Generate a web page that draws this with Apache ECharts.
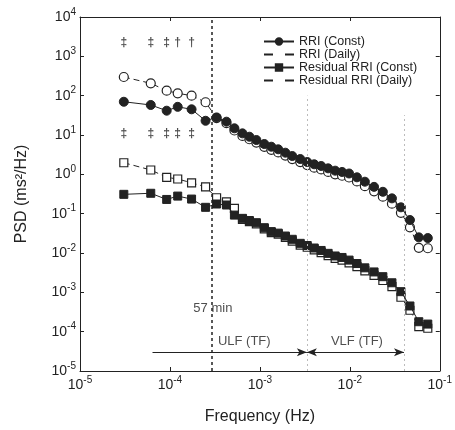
<!DOCTYPE html>
<html><head><meta charset="utf-8">
<script src="https://cdn.jsdelivr.net/npm/echarts@6/dist/echarts.min.js"></script>
<style>html,body{margin:0;padding:0;background:#fff}#c{width:455px;height:430px}</style>
</head><body><div id="c"></div>
<script>
// Frequencies (Hz)
const freq = [3.07e-5, 6.12e-5, 9.2e-5, 1.22e-4, 1.74e-4, 2.49e-4, 3.30e-4, 4.25e-4, 5.21e-4, 6.40e-4,
  7.65e-4, 9.14e-4, 1.12e-3, 1.34e-3, 1.60e-3, 1.92e-3, 2.29e-3, 2.81e-3, 3.36e-3, 4.02e-3,
  4.80e-3, 5.74e-3, 6.87e-3, 8.20e-3, 9.81e-3, 1.20e-2, 1.47e-2, 1.86e-2, 2.33e-2, 2.94e-2,
  3.70e-2, 4.66e-2, 5.85e-2, 7.36e-2];
// PSD (ms^2/Hz)
const rriConst = [70, 58, 41.5, 52, 45, 23, 28, 21.8, 14.8, 11.0, 9.05, 7.46, 5.9, 5.04, 4.33, 3.55, 2.92,
  2.45, 2.06, 1.80, 1.63, 1.42, 1.24, 1.15, 1.05, 0.84, 0.65, 0.48, 0.36, 0.245, 0.145, 0.069, 0.025, 0.024];
const rriDaily = [298, 206, 134, 115, 100, 68, 27, 20, 13, 9.5, 7.8, 6.4, 5.0, 4.2, 3.6, 3.0, 2.45,
  2.05, 1.72, 1.48, 1.33, 1.15, 1.0, 0.92, 0.83, 0.66, 0.5, 0.37, 0.27, 0.18, 0.105, 0.045, 0.0135, 0.0132];
const resConst = [0.31, 0.33, 0.23, 0.28, 0.235, 0.145, 0.176, 0.166, 0.092, 0.076, 0.067, 0.059, 0.044,
  0.035, 0.032, 0.027, 0.0223, 0.0176, 0.0155, 0.0134, 0.0116, 0.0098, 0.0084, 0.0077, 0.0066, 0.0054,
  0.0042, 0.0033, 0.0025, 0.00175, 0.00104, 0.00045, 0.000179, 0.000156];
const resDaily = [1.97, 1.29, 0.84, 0.76, 0.61, 0.48, 0.254, 0.20, 0.137, 0.072, 0.063, 0.055, 0.041,
  0.033, 0.030, 0.025, 0.020, 0.0158, 0.014, 0.012, 0.0102, 0.0086, 0.0073, 0.0066, 0.0056, 0.0045,
  0.0035, 0.0027, 0.002, 0.0014, 0.00075, 0.00035, 0.000134, 0.000122];
const seriesNames = ['RRI (Const)', 'RRI (Daily)', 'Residual RRI (Const)', 'Residual RRI (Daily)'];
// significance markers
const sigFreq = [3.07e-5, 6.12e-5, 9.2e-5, 1.22e-4, 1.74e-4];
const sigTopText = ['‡', '‡', '‡', '†', '†'];
const sigBottomText = ['‡', '‡', '‡', '‡', '‡'];
const sigTopLevel = 2200, sigBottomLevel = 11;
// band boundaries and annotations
const f57min = 2.92e-4, fULFstart = 6.4e-5, fULFend = 3.33e-3, fVLFend = 0.04;
const arrowLevel = 3.0e-5;
const notes = [
  {text: '57 min', f: 3.0e-4, p: 4.0e-4},
  {text: 'ULF (TF)', f: 6.7e-4, p: 5.6e-5},
  {text: 'VLF (TF)', f: 1.2e-2, p: 5.6e-5}
];
const xRange = [1e-5, 1e-1], yRange = [1e-5, 1e4];

const FONT = 'Liberation Sans, Arial, sans-serif';
const INK = '#222';
function powLabel(v) {
  const e = Math.round(Math.log10(v));
  return '{b|10}{s|' + e + '}';
}
const rich = {
  b: {fontSize: 14, fontFamily: FONT, color: INK, lineHeight: 20},
  s: {fontSize: 10, fontFamily: FONT, color: INK, verticalAlign: 'top', lineHeight: 10}
};
const pair = arr => freq.map((f, i) => [f, arr[i]]);

const chart = echarts.init(document.getElementById('c'), null, {renderer: 'canvas'});
const baseAxis = {
  type: 'log', logBase: 10,
  axisLine: {show: true, lineStyle: {color: INK, width: 1}},
  axisTick: {show: true, inside: true, length: 4, lineStyle: {color: INK}},
  splitLine: {show: false}
};
chart.setOption({
  animation: false,
  backgroundColor: '#fff',
  textStyle: {fontFamily: FONT},
  grid: {left: 80, top: 17, right: 14, bottom: 59},
  legend: {
    data: [
      {name: seriesNames[0]},
      {name: seriesNames[1], itemStyle: {opacity: 0}, lineStyle: {type: [9, 12]}},
      {name: seriesNames[2]},
      {name: seriesNames[3], itemStyle: {opacity: 0}, lineStyle: {type: [9, 12]}}
    ],
    orient: 'vertical', left: 258, top: 30,
    itemWidth: 30, itemHeight: 8, itemGap: 0,
    textStyle: {fontSize: 12.5, color: INK, fontFamily: FONT}
  },
  xAxis: [
    Object.assign({}, baseAxis, {
      min: xRange[0], max: xRange[1], position: 'bottom',
      name: 'Frequency (Hz)', nameLocation: 'middle', nameGap: 38,
      nameTextStyle: {fontSize: 16, color: INK, fontFamily: FONT},
      axisLabel: {formatter: powLabel, rich: rich, margin: 4}
    }),
    Object.assign({}, baseAxis, {
      min: xRange[0], max: xRange[1], position: 'top', axisLabel: {show: false}
    })
  ],
  yAxis: [
    Object.assign({}, baseAxis, {
      min: yRange[0], max: yRange[1], position: 'left',
      name: 'PSD (ms²/Hz)', nameLocation: 'middle', nameGap: 50,
      nameTextStyle: {fontSize: 16, color: INK, fontFamily: FONT},
      axisLabel: {formatter: powLabel, rich: rich, margin: 4}
    }),
    Object.assign({}, baseAxis, {
      min: yRange[0], max: yRange[1], position: 'right', axisLabel: {show: false}
    })
  ],
  series: [
    {
      name: 'guides', type: 'line', data: [], silent: true,
      markLine: {
        silent: true, animation: false, symbol: 'none', label: {show: false},
        data: [
          [{coord: [f57min, yRange[0]], lineStyle: {color: INK, type: [3, 3], width: 1.5}},
           {coord: [f57min, yRange[1]]}],
          [{coord: [fULFend, yRange[0]], lineStyle: {color: '#bbb', type: [2, 3], width: 1}},
           {coord: [fULFend, 100]}],
          [{coord: [fVLFend, yRange[0]], lineStyle: {color: '#bbb', type: [2, 3], width: 1}},
           {coord: [fVLFend, 32]}],
          [{coord: [fULFstart, arrowLevel], symbol: 'none', lineStyle: {color: INK, width: 1, type: 'solid'}},
           {coord: [fULFend, arrowLevel], symbol: 'arrow', symbolSize: [6, 10]}],
          [{coord: [fULFend, arrowLevel], symbol: 'arrow', symbolSize: [6, 10], lineStyle: {color: INK, width: 1, type: 'solid'}},
           {coord: [fVLFend, arrowLevel], symbol: 'arrow', symbolSize: [6, 10]}]
        ]
      }
    },
    {
      name: seriesNames[1], type: 'line', data: pair(rriDaily),
      symbol: 'circle', symbolSize: 9,
      itemStyle: {color: '#fff', borderColor: INK, borderWidth: 1.2},
      lineStyle: {color: INK, width: 1, type: [6, 4]}, z: 3
    },
    {
      name: seriesNames[0], type: 'line', data: pair(rriConst),
      symbol: 'circle', symbolSize: 9,
      itemStyle: {color: INK, borderColor: INK, borderWidth: 1},
      lineStyle: {color: INK, width: 1}, z: 4
    },
    {
      name: seriesNames[3], type: 'line', data: pair(resDaily),
      symbol: 'rect', symbolSize: 8,
      itemStyle: {color: '#fff', borderColor: INK, borderWidth: 1.2},
      lineStyle: {color: INK, width: 1, type: [6, 4]}, z: 3
    },
    {
      name: seriesNames[2], type: 'line', data: pair(resConst),
      symbol: 'rect', symbolSize: 8,
      itemStyle: {color: INK, borderColor: INK, borderWidth: 1},
      lineStyle: {color: INK, width: 1}, z: 4
    },
    {
      name: 'sig', type: 'scatter', symbolSize: 0, silent: true,
      data: sigFreq.map((f, i) => ({value: [f, sigTopLevel], name: sigTopText[i]}))
        .concat(sigFreq.map((f, i) => ({value: [f, sigBottomLevel], name: sigBottomText[i]}))),
      label: {show: true, position: 'inside', formatter: p => p.name, fontSize: 12, color: INK, fontWeight: 'bold'}
    },
    {
      name: 'notes', type: 'scatter', symbolSize: 0, silent: true,
      data: notes.map(n => ({value: [n.f, n.p], name: n.text})),
      label: {show: true, position: 'inside', formatter: p => p.name, fontSize: 13, color: INK, fontFamily: FONT}
    }
  ]
});
</script>
</body></html>
